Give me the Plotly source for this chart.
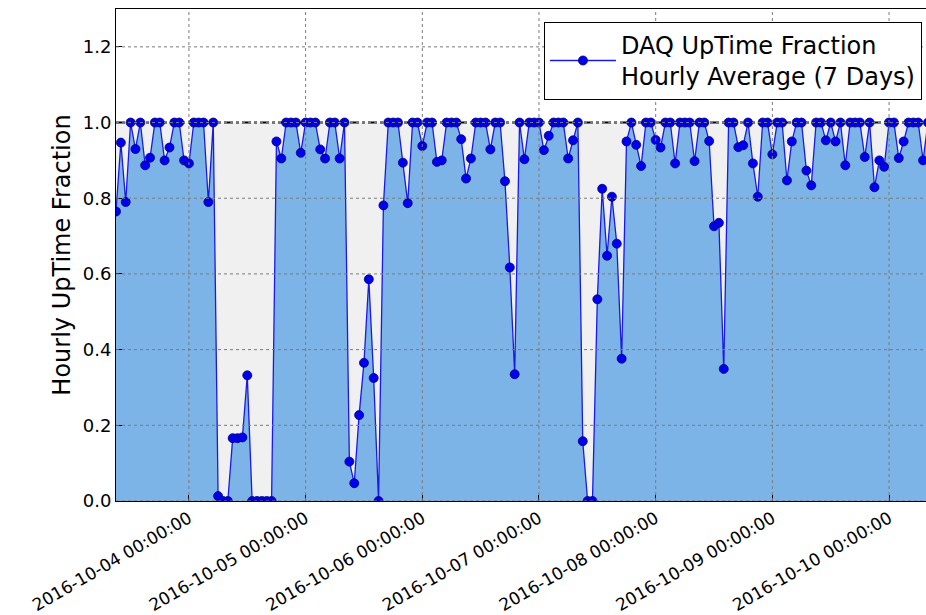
import pandas as pd
import plotly.graph_objects as go

# ---- data ----
start_time = "2016-10-03 09:00:00"
uptime = [
    0.765, 0.947, 0.79, 1.0, 0.93, 1.0, 0.887, 0.907, 1.0, 1.0,
    0.9, 0.934, 1.0, 1.0, 0.9, 0.892, 1.0, 1.0, 1.0, 0.79,
    1.0, 0.013, 0.0, 0.0, 0.166, 0.166, 0.168, 0.332, 0.0, 0.0,
    0.0, 0.0, 0.0, 0.95, 0.905, 1.0, 1.0, 1.0, 0.92, 1.0,
    1.0, 1.0, 0.929, 0.905, 1.0, 1.0, 0.905, 1.0, 0.104, 0.047,
    0.227, 0.365, 0.586, 0.325, 0.0, 0.781, 1.0, 1.0, 1.0, 0.894,
    0.787, 1.0, 1.0, 0.938, 1.0, 1.0, 0.896, 0.9, 1.0, 1.0,
    1.0, 0.956, 0.852, 0.905, 1.0, 1.0, 1.0, 0.929, 1.0, 1.0,
    0.845, 0.617, 0.335, 1.0, 0.903, 1.0, 1.0, 1.0, 0.927, 0.965,
    1.0, 1.0, 1.0, 0.905, 0.953, 1.0, 0.158, 0.0, 0.0, 0.533,
    0.825, 0.648, 0.804, 0.68, 0.376, 0.95, 1.0, 0.941, 0.885, 1.0,
    1.0, 0.954, 0.934, 1.0, 1.0, 0.892, 1.0, 1.0, 1.0, 0.898,
    1.0, 1.0, 0.951, 0.726, 0.735, 0.349, 1.0, 1.0, 0.935, 0.94,
    1.0, 0.892, 0.804, 1.0, 1.0, 0.916, 1.0, 1.0, 0.847, 0.95,
    1.0, 1.0, 0.873, 0.834, 1.0, 1.0, 0.953, 1.0, 0.95, 1.0,
    0.887, 1.0, 1.0, 1.0, 0.909, 1.0, 0.829, 0.9, 0.883, 1.0,
    1.0, 0.906, 0.95, 1.0, 1.0, 1.0, 0.9, 1.0,
]
tick_dates = ["2016-10-04", "2016-10-05", "2016-10-06", "2016-10-07",
              "2016-10-08", "2016-10-09", "2016-10-10"]
y_ticks = [0.0, 0.2, 0.4, 0.6, 0.8, 1.0, 1.2]
series_name = "DAQ UpTime Fraction<br>Hourly Average (7 Days)"

times = pd.date_range(start_time, periods=len(uptime), freq="h")
ones = [1.0] * len(uptime)

FONT = "DejaVu Sans"
fig = go.Figure()

# gray band between data and 1.0
fig.add_trace(go.Scatter(x=times, y=ones, mode="lines", line=dict(width=0),
                         fill="tozeroy", fillcolor="#f0f0f0",
                         showlegend=False, hoverinfo="skip"))
# blue fill below data
fig.add_trace(go.Scatter(x=times, y=uptime, mode="lines", line=dict(width=0),
                         fill="tozeroy", fillcolor="#7db4e7",
                         showlegend=False, hoverinfo="skip"))
# dash-dot reference line at 1.0
fig.add_trace(go.Scatter(x=[times[0], times[-1]], y=[1.0, 1.0], mode="lines",
                         line=dict(color="black", width=2, dash="dashdot"),
                         showlegend=False, hoverinfo="skip"))
# data line with markers
fig.add_trace(go.Scatter(x=times, y=uptime, mode="lines+markers",
                         name=series_name,
                         line=dict(color="#1a1ae6", width=1.3),
                         marker=dict(color="#0000ee", size=9,
                                     line=dict(color="#000080", width=0.8))))

# dotted grid drawn above fills
grid_style = dict(color="#7a7a7a", width=1, dash="dot")
for d in tick_dates:
    fig.add_shape(type="line", xref="x", yref="paper", x0=d, x1=d, y0=0, y1=1,
                  line=grid_style, layer="above")
for v in y_ticks:
    fig.add_shape(type="line", xref="paper", yref="y", x0=0, x1=1, y0=v, y1=v,
                  line=grid_style, layer="above")

range_end = times[0] + pd.Timedelta(hours=166.6)

fig.update_layout(
    width=926, height=615,
    margin=dict(l=116, r=0, t=9, b=114),
    paper_bgcolor="white", plot_bgcolor="white",
    font=dict(family=FONT, size=18, color="black"),
    showlegend=True,
    legend=dict(x=0.995, y=0.974, xanchor="right", yanchor="top",
                bgcolor="white", bordercolor="black", borderwidth=1,
                font=dict(family=FONT, size=24, color="black"),
                itemwidth=66, tracegroupgap=0),
    xaxis=dict(range=[times[0], range_end], automargin=False,
               tickvals=tick_dates, tickformat="%Y-%m-%d %H:%M:%S",
               tickangle=-30, showgrid=False, zeroline=False,
               showline=True, linecolor="black", linewidth=1, mirror=True,
               ticks="inside", ticklen=6, tickcolor="black",
               tickfont=dict(family=FONT, size=17)),
    yaxis=dict(range=[0, 1.3], tickvals=y_ticks, tickformat=".1f",
               automargin=False,
               showgrid=False, zeroline=False,
               showline=True, linecolor="black", linewidth=1,
               ticks="inside", ticklen=6, tickcolor="black",
               tickfont=dict(family=FONT, size=18),
               title=dict(text="Hourly UpTime Fraction",
                          font=dict(family=FONT, size=24), standoff=5)),
)

# remove the default page margin so the figure fills the window exactly
fig.write_html("out.html",
               config={"displayModeBar": False},
               post_script="document.body.style.margin='0';"
                           "document.body.style.overflow='hidden';")
